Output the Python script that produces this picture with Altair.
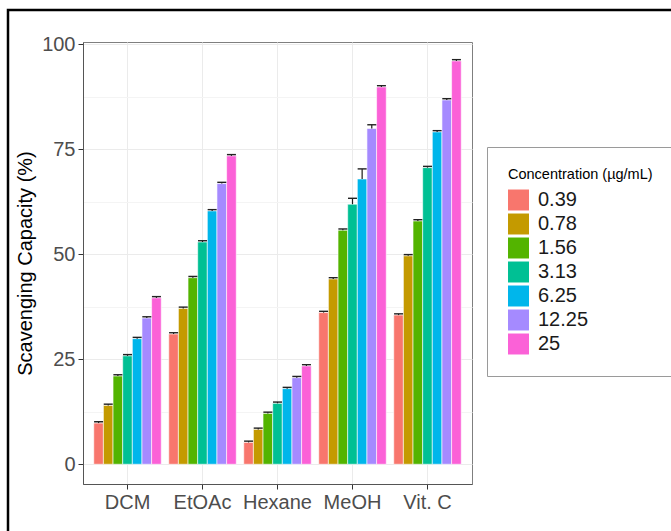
import altair as alt
import pandas as pd

# ---- data ----
extracts = ["DCM", "EtOAc", "Hexane", "MeOH", "Vit. C"]
concentrations = ["0.39", "0.78", "1.56", "3.13", "6.25", "12.25", "25"]
dcm = [9.8, 14.0, 21.0, 25.8, 29.9, 34.8, 39.6]
etoac = [31.0, 37.1, 44.4, 52.9, 60.3, 66.8, 73.4]
hexane = [5.2, 8.3, 12.1, 14.5, 18.0, 20.6, 23.4]
meoh = [36.1, 44.1, 55.7, 61.9, 67.9, 79.9, 89.8]
vitc = [35.5, 49.6, 57.9, 70.6, 79.1, 86.7, 96.0]
sd_dcm = [0.3, 0.3, 0.3, 0.3, 0.3, 0.3, 0.3]
sd_etoac = [0.3, 0.3, 0.3, 0.3, 0.3, 0.3, 0.3]
sd_hexane = [0.3, 0.3, 0.3, 0.3, 0.3, 0.3, 0.3]
sd_meoh = [0.3, 0.3, 0.3, 1.4, 2.4, 0.9, 0.3]
sd_vitc = [0.3, 0.3, 0.3, 0.3, 0.3, 0.3, 0.3]
colors = ["#F8766D", "#C49A00", "#53B400", "#00C094", "#00B6EB", "#A58AFF", "#FB61D7"]

rows = []
for ext, vals, sds in zip(extracts, [dcm, etoac, hexane, meoh, vitc],
                          [sd_dcm, sd_etoac, sd_hexane, sd_meoh, sd_vitc]):
    for c, v, s in zip(concentrations, vals, sds):
        rows.append({"Extract": ext, "Concentration": c, "value": v, "upper": v + s})
df = pd.DataFrame(rows)

FONT = "Liberation Sans"

x_enc = alt.X("Extract:N", sort=extracts, title=None,
              scale=alt.Scale(paddingInner=0.1, paddingOuter=0.1435),
              axis=alt.Axis(labelAngle=0, bandPosition=0.5, labelFontSize=20,
                            labelColor="#4D4D4D", labelFont=FONT, tickColor="#333333",
                            tickSize=5, labelPadding=3, domainColor="#555555",
                            gridColor="#EBEBEB", grid=True))
xoff = alt.XOffset("Concentration:N", sort=concentrations,
                   scale=alt.Scale(paddingInner=0, paddingOuter=0))
y_scale = alt.Scale(domain=[-4.7, 100.5], nice=False, zero=False)

base = alt.Chart(df)

bars = base.mark_bar(stroke="white", strokeWidth=0.6).encode(
    x=x_enc,
    xOffset=xoff,
    y=alt.Y("value:Q", scale=y_scale, title="Scavenging Capacity (%)",
            axis=alt.Axis(values=[0, 12.5, 25, 37.5, 50, 62.5, 75, 87.5, 100],
                          labelExpr="datum.value % 25 === 0 ? datum.label : ''",
                          labelFontSize=20, labelColor="#4D4D4D", labelFont=FONT,
                          titleFontSize=20, titleFont=FONT, titleColor="#000000",
                          titleFontWeight="normal", titlePadding=6,
                          tickSize=5, labelPadding=3, domainColor="#555555",
                          tickColor={"condition": {"test": "datum.value % 25 === 0", "value": "#333333"}, "value": "transparent"},
                          gridColor={"condition": {"test": "datum.value % 25 === 0", "value": "#EBEBEB"}, "value": "#F4F4F4"},
                          grid=True)),
    y2=alt.datum(0),
    color=alt.Color("Concentration:N", sort=concentrations,
                    scale=alt.Scale(domain=concentrations, range=colors),
                    legend=alt.Legend(title="Concentration (µg/mL)", orient="none",
                                      legendX=404, legendY=105,
                                      titleFontSize=14.5, titleFont=FONT,
                                      titleFontWeight="normal", titleColor="#000000",
                                      titlePadding=7,
                                      labelFontSize=20, labelFont=FONT, labelColor="#1A1A1A",
                                      labelOffset=9, symbolType="square", symbolSize=440,
                                      symbolStrokeWidth=0, symbolOpacity=1, rowPadding=3,
                                      padding=21, strokeColor="#9A9A9A", fillColor="white")),
)

err_line = base.mark_rule(color="#1A1A1A", strokeWidth=1.2).encode(
    x=alt.X("Extract:N", sort=extracts), xOffset=xoff,
    y=alt.Y("value:Q", scale=y_scale), y2="upper:Q")

err_cap = base.mark_tick(color="#222222", thickness=1.4, size=9, opacity=1).encode(
    x=alt.X("Extract:N", sort=extracts), xOffset=xoff,
    y=alt.Y("upper:Q", scale=y_scale))

frame = alt.Chart(pd.DataFrame({"f": [0]})).mark_rect(
    fill=None, stroke="#000000", strokeWidth=2.5).encode(
    x=alt.value(-75), x2=alt.value(640), y=alt.value(-32), y2=alt.value(540))

chart = alt.layer(bars, err_line, err_cap, frame).properties(
    width=389, height=442,
    autosize=alt.AutoSizeParams(type="none"),
    padding={"left": 83, "top": 42, "right": 199, "bottom": 47},
    background="white",
).configure_view(stroke="#7F7F7F", strokeWidth=1)

chart.save("out.html", embed_options={"renderer": "svg", "actions": False})
